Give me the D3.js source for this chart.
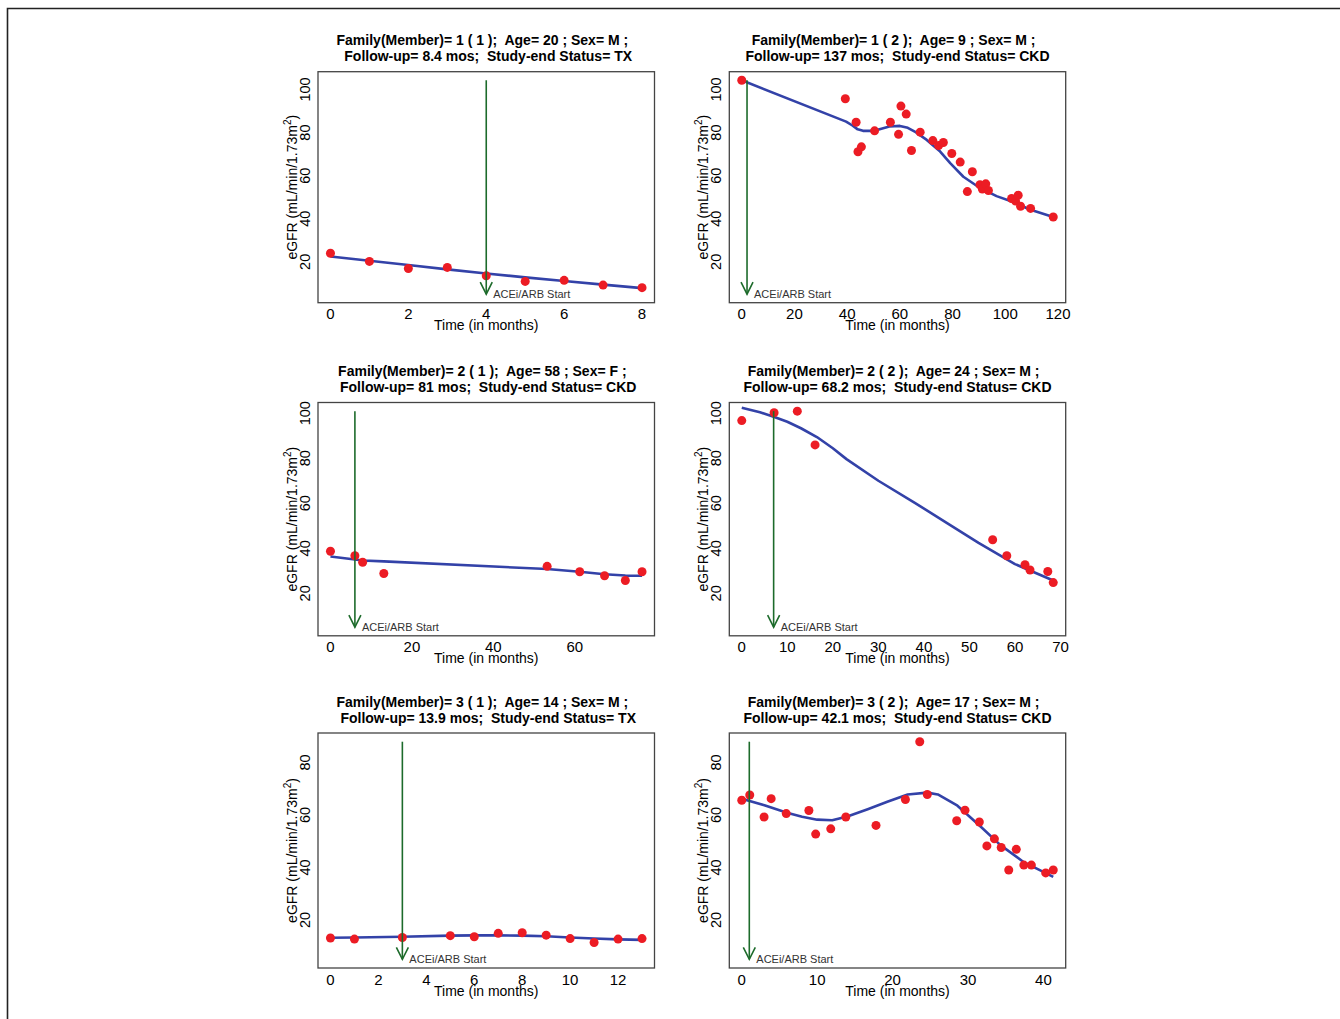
<!DOCTYPE html>
<html>
<head>
<meta charset="utf-8">
<script src="https://cdn.jsdelivr.net/npm/d3@7"></script>
<style>
  body { margin: 0; background: #fff; }
  svg { display: block; font-family: "Liberation Sans", Arial, sans-serif; }
</style>
</head>
<body>
<div id="chart"></div>
<script>
// panel titles (two lines each)
var titleTop = [
  "Family(Member)= 1 ( 1 );  Age= 20 ; Sex= M ;  ",
  "Family(Member)= 1 ( 2 );  Age= 9 ; Sex= M ;  ",
  "Family(Member)= 2 ( 1 );  Age= 58 ; Sex= F ;  ",
  "Family(Member)= 2 ( 2 );  Age= 24 ; Sex= M ;  ",
  "Family(Member)= 3 ( 1 );  Age= 14 ; Sex= M ;  ",
  "Family(Member)= 3 ( 2 );  Age= 17 ; Sex= M ;  "
];
var titleBottom = [
  " Follow-up= 8.4 mos;  Study-end Status= TX",
  "Follow-up= 137 mos;  Study-end Status= CKD",
  " Follow-up= 81 mos;  Study-end Status= CKD",
  "Follow-up= 68.2 mos;  Study-end Status= CKD",
  " Follow-up= 13.9 mos;  Study-end Status= TX",
  "Follow-up= 42.1 mos;  Study-end Status= CKD"
];
var family = [1, 1, 2, 2, 3, 3];
// month of ACEi/ARB start
var aceStart = [4, 2, 6, 7, 3, 1];

// observed eGFR
var p1Time = [0, 1, 2, 3, 4, 5, 6, 7, 8];
var p1Egfr = [24.0, 20.2, 16.9, 17.4, 13.5, 10.9, 11.4, 9.2, 8.0];
var p2Time = [0, 39.3, 43.4, 44.1, 45.4, 50.4, 56.4, 59.5, 60.4, 62.4, 64.4, 67.7, 72.5, 74.7, 76.5,
  79.7, 82.9, 85.6, 87.5, 90.4, 91.3, 92.6, 93.6, 102.4, 103.9, 104.9, 105.8, 109.6, 118.2];
var p2Egfr = [104.3, 95.7, 84.8, 71.1, 73.4, 80.8, 84.8, 79.2, 92.3, 88.6, 71.7, 80.2, 76.3, 74.0, 75.4,
  70.3, 66.3, 52.6, 61.8, 55.8, 53.8, 56.2, 53.1, 49.4, 48.2, 50.9, 45.8, 44.8, 40.8];
var p3Time = [0, 6, 7.9, 13.1, 53.2, 61.2, 67.3, 72.4, 76.5];
var p3Egfr = [38.7, 36.7, 33.8, 28.8, 32.0, 29.6, 27.8, 25.7, 29.6];
var p4Time = [0, 7.1, 12.2, 16.1, 55.1, 58.2, 62.2, 63.3, 67.2, 68.4];
var p4Egfr = [96.7, 100.2, 100.9, 85.9, 43.8, 36.7, 32.7, 30.4, 29.7, 24.8];
var p5Time = [0, 1, 3, 5, 6, 7, 8, 9, 10, 11, 12, 13];
var p5Egfr = [13.1, 12.7, 13.3, 14.0, 13.6, 14.9, 15.1, 14.2, 12.9, 11.4, 12.7, 12.9];
var p6Time = [0, 1.06, 2.96, 3.9, 5.9, 8.9, 9.8, 11.8, 13.8, 17.8, 21.7, 23.6, 24.6, 28.5, 29.6,
  31.5, 32.5, 33.5, 34.4, 35.4, 36.4, 37.4, 38.4, 40.3, 41.3];
var p6Egfr = [65.6, 67.6, 59.2, 66.2, 60.5, 61.7, 52.7, 54.7, 59.2, 56.0, 65.9, 87.9, 67.8, 57.8, 61.8,
  57.3, 48.2, 50.9, 47.6, 39.0, 46.9, 40.9, 40.9, 37.9, 39.0];

// smoothed (loess) trend
var p1FitTime = [0, 1, 2, 3, 4, 5, 6, 7, 8];
var p1Fit = [22.5, 20.5, 18.5, 16.5, 14.6, 12.8, 11.1, 9.4, 7.8];
var p2FitTime = [0, 39.6, 42, 44, 46, 50, 53, 56, 60, 63, 66, 70.2, 75.3, 79.1, 84.1, 90.4, 96.7, 103, 109.3, 118.2];
var p2Fit = [104.3, 85.1, 83.3, 81.5, 80.8, 80.8, 81.8, 82.8, 83.1, 82.2, 80.2, 76.6, 71.2, 65.8, 59.5, 54.3, 50.5, 47.8, 44.3, 40.8];
var p3FitTime = [0, 6, 7.9, 13.1, 53.2, 61.2, 67.3, 72.4, 76.5];
var p3Fit = [36.4, 35.0, 34.6, 34.2, 30.8, 29.6, 28.5, 27.9, 27.8];
var p4FitTime = [0, 4, 7, 10, 13, 16.5, 20, 23, 30, 38, 45, 52, 60, 68.4];
var p4Fit = [102.4, 100.4, 98.4, 96.2, 93.3, 89.4, 84.4, 79.6, 70.0, 60.2, 51.3, 42.4, 33.0, 25.7];
var p5FitTime = [0, 1, 3, 5, 6, 7, 8, 9, 10, 11, 12, 13];
var p5Fit = [13.2, 13.3, 13.6, 14.0, 14.1, 14.1, 14.0, 13.8, 13.3, 12.9, 12.6, 12.4];
var p6FitTime = [0, 3, 6, 8, 10, 12, 14, 16.7, 19.3, 22, 24.6, 26, 28.6, 31.7, 34.3, 37.4, 41.3];
var p6Fit = [66.2, 63.7, 60.8, 59.3, 58.2, 58.0, 59.4, 62.2, 65.0, 67.8, 68.5, 67.8, 63.5, 55.5, 48.5, 42.0, 36.4];

// tick labels
var xTicks = [[0, 2, 4, 6, 8], [0, 20, 40, 60, 80, 100, 120], [0, 20, 40, 60],
  [0, 10, 20, 30, 40, 50, 60, 70], [0, 2, 4, 6, 8, 10, 12], [0, 10, 20, 30, 40]];
var yTicks = [[20, 40, 60, 80, 100], [20, 40, 60, 80, 100], [20, 40, 60, 80]];

var times = [p1Time, p2Time, p3Time, p4Time, p5Time, p6Time];
var egfrs = [p1Egfr, p2Egfr, p3Egfr, p4Egfr, p5Egfr, p6Egfr];
var fitTimes = [p1FitTime, p2FitTime, p3FitTime, p4FitTime, p5FitTime, p6FitTime];
var fits = [p1Fit, p2Fit, p3Fit, p4Fit, p5Fit, p6Fit];

var width = 1340, height = 1019;
var colLeft = [318, 729.3], colRight = [654.5, 1065.7];
var rowTop = [71.7, 402.5, 733], rowBottom = [302.7, 635.8, 968];

var svg = d3.select("#chart").append("svg")
  .attr("width", width)
  .attr("height", height);

// outer frame (top and left edges only)
svg.append("path")
  .attr("d", "M7.5," + height + "V8.5H" + width)
  .attr("fill", "none")
  .attr("stroke", "#222")
  .attr("stroke-width", 1.6);

// R-style padded extent
function pad(lo, hi) {
  var d = (hi - lo) * 0.04;
  return [lo - d, hi + d];
}

for (var i = 0; i < 6; i++) {
  var col = i % 2, row = Math.floor(i / 2);
  var L = colLeft[col], R = colRight[col], T = rowTop[row], B = rowBottom[row];

  // y limits shared by the two members of a family
  var famMax = d3.max(egfrs.filter(function (e, j) { return family[j] === family[i]; }), function (e) { return d3.max(e); });
  var x = d3.scaleLinear().domain(pad(0, d3.max(times[i]))).range([L, R]);
  var y = d3.scaleLinear().domain(pad(5, famMax)).range([B, T]);

  var g = svg.append("g");

  // title
  g.append("text").attr("x", (L + R) / 2).attr("y", T - 26.5)
    .attr("text-anchor", "middle").style("white-space", "pre")
    .attr("font-size", 14).attr("font-weight", "bold")
    .text(titleTop[i]);
  g.append("text").attr("x", (L + R) / 2).attr("y", T - 10.5)
    .attr("text-anchor", "middle").style("white-space", "pre")
    .attr("font-size", 14).attr("font-weight", "bold")
    .text(titleBottom[i]);

  // x tick labels
  g.selectAll("xt").data(xTicks[i]).enter().append("text")
    .attr("x", function (d) { return x(d); })
    .attr("y", B + 16.5)
    .attr("text-anchor", "middle")
    .attr("font-size", 15)
    .text(function (d) { return d; });

  // y tick labels (rotated, R style)
  g.selectAll("yt").data(yTicks[row]).enter().append("text")
    .attr("transform", function (d) { return "translate(" + (L - 8) + "," + y(d) + ") rotate(-90)"; })
    .attr("text-anchor", "middle")
    .attr("font-size", 14.5)
    .text(function (d) { return d; });

  // axis titles
  g.append("text").attr("x", (L + R) / 2).attr("y", B + 27.5)
    .attr("text-anchor", "middle").attr("font-size", 14)
    .text("Time (in months)");
  var yl = g.append("text")
    .attr("transform", "translate(" + (L - 21.5) + "," + ((T + B) / 2) + ") rotate(-90)")
    .attr("text-anchor", "middle").attr("font-size", 14);
  yl.append("tspan").text("eGFR (mL/min/1.73m");
  yl.append("tspan").attr("font-size", 10).attr("dy", -6).text("2");
  yl.append("tspan").attr("dy", 6).text(")");

  // loess trend
  var line = d3.line()
    .x(function (d) { return x(d[0]); })
    .y(function (d) { return y(d[1]); });
  g.append("path")
    .datum(d3.zip(fitTimes[i], fits[i]))
    .attr("d", line)
    .attr("fill", "none")
    .attr("stroke", "#3342a8")
    .attr("stroke-width", 2.6)
    .attr("stroke-linejoin", "round");

  // observed points
  g.selectAll("pt").data(d3.zip(times[i], egfrs[i])).enter().append("circle")
    .attr("cx", function (d) { return x(d[0]); })
    .attr("cy", function (d) { return y(d[1]); })
    .attr("r", 4.5)
    .attr("fill", "#ec1c24");

  // ACEi/ARB start arrow
  var ax = x(aceStart[i]), tipY = y(5);
  g.append("line")
    .attr("x1", ax).attr("x2", ax)
    .attr("y1", y(famMax)).attr("y2", tipY)
    .attr("stroke", "#1d6b2b").attr("stroke-width", 1.6);
  g.append("path")
    .attr("d", "M" + (ax - 6) + "," + (tipY - 12) + "L" + ax + "," + tipY + "L" + (ax + 6) + "," + (tipY - 12))
    .attr("fill", "none")
    .attr("stroke", "#1d6b2b").attr("stroke-width", 1.6);
  g.append("text")
    .attr("x", ax + 7).attr("y", tipY + 4)
    .attr("font-size", 11).attr("fill", "#333")
    .text("ACEi/ARB Start");

  // plot box
  g.append("rect")
    .attr("x", L).attr("y", T)
    .attr("width", R - L).attr("height", B - T)
    .attr("fill", "none")
    .attr("stroke", "#444")
    .attr("stroke-width", 1.3);
}
</script>
</body>
</html>
